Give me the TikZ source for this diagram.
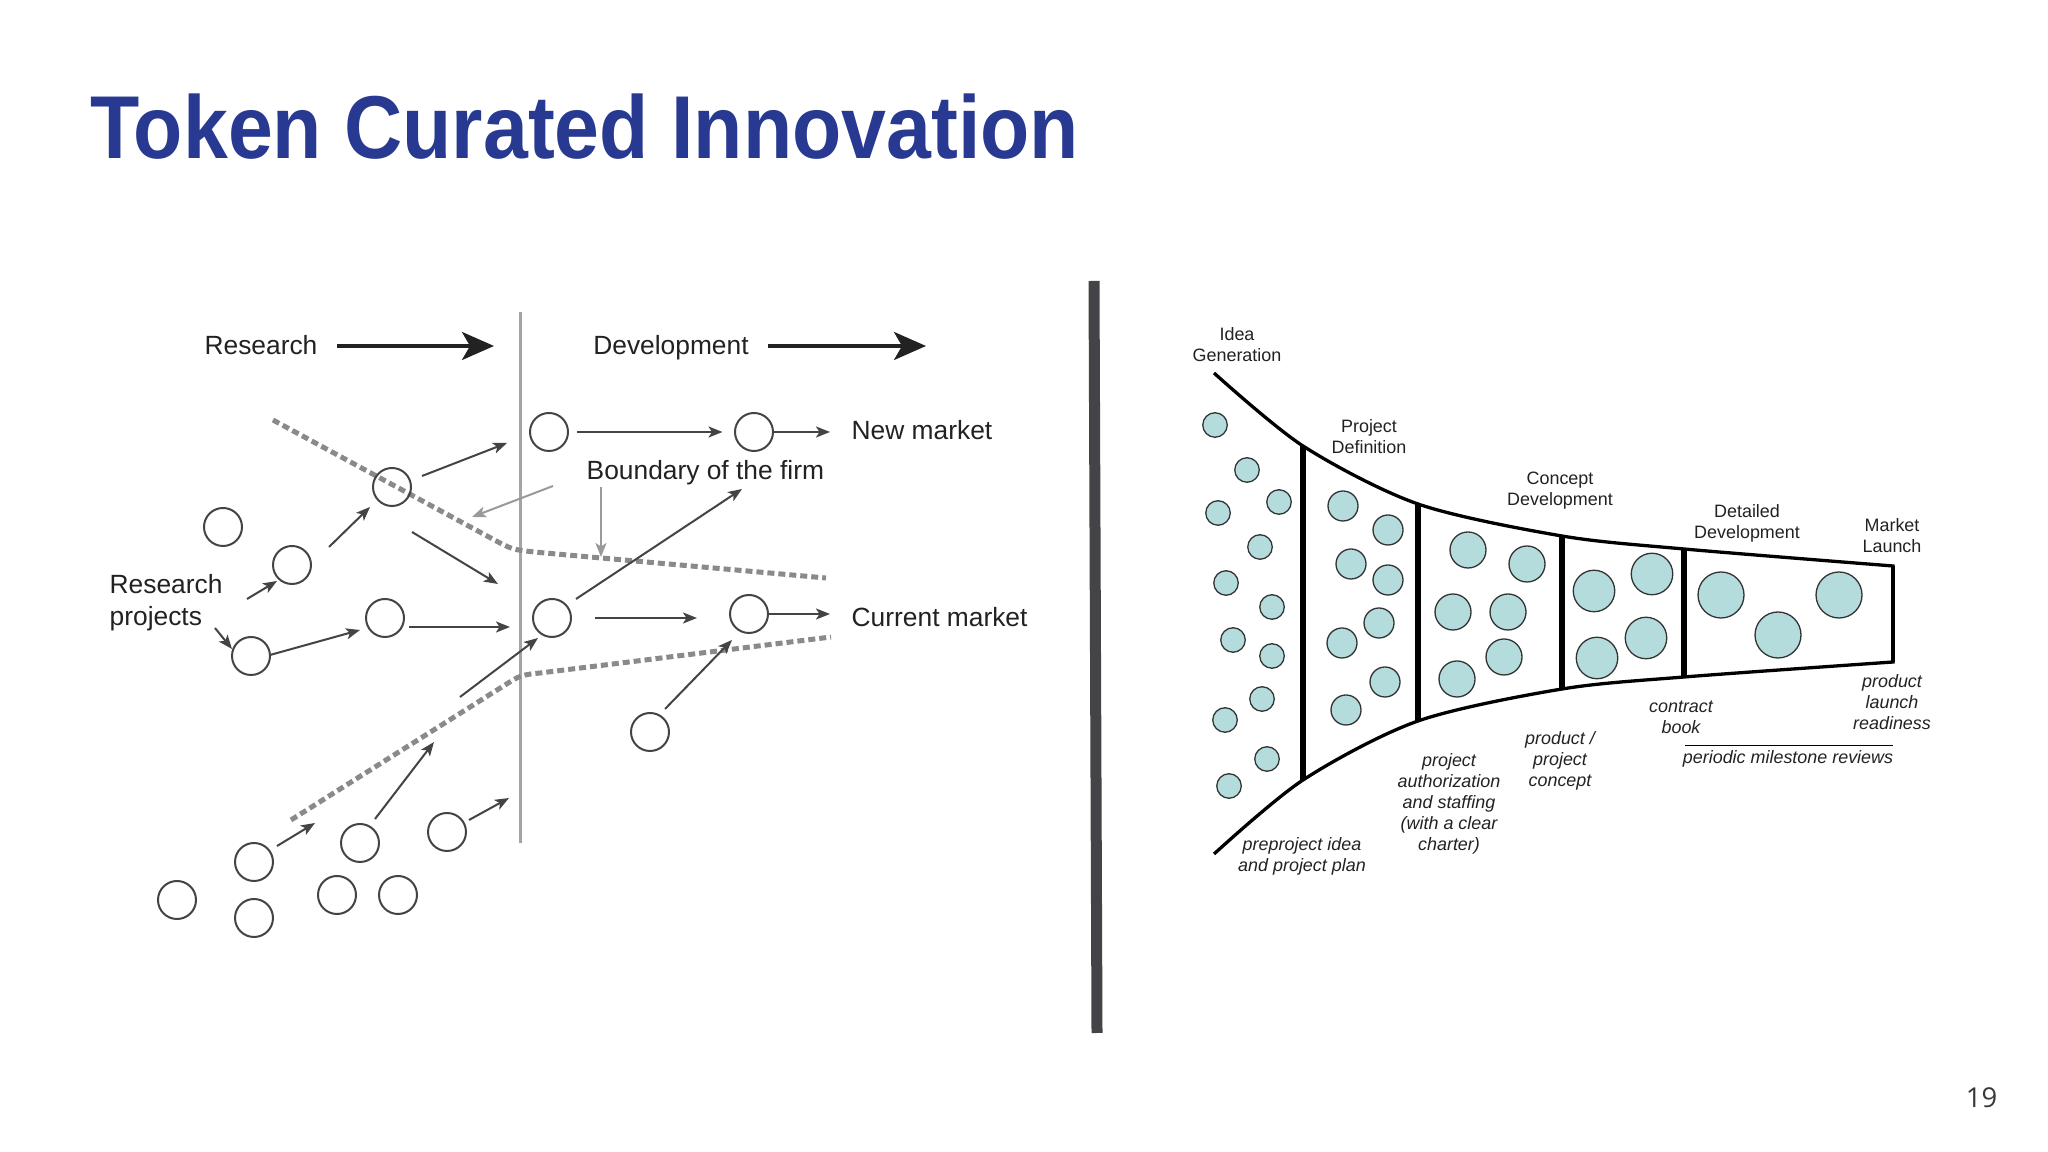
\documentclass[tikz,border=0pt]{standalone}
\usepackage{fontspec}
\setmainfont{Liberation Sans}
\newfontfamily\titlefont[FakeStretch=0.903]{Liberation Sans}
\newfontfamily\numfont{Open Sans}
\usetikzlibrary{arrows.meta,calc}
\definecolor{titleblue}{HTML}{283991}
\definecolor{inkgray}{HTML}{444444}
\definecolor{dotgray}{HTML}{8A8A8A}
\definecolor{firmgray}{HTML}{9A9A9A}
\definecolor{sepgray}{HTML}{444448}
\definecolor{ideafill}{HTML}{B4DCDC}
\definecolor{txt}{HTML}{222222}

\begin{document}
\begin{tikzpicture}[x=0.1mm,y=-0.1mm,
  lbl/.style={text=txt,inner sep=0pt,font=\fontsize{7.5}{9}\selectfont},
  proj/.style={circle,draw=inkgray,line width=0.2mm,minimum size=3.8mm,inner sep=0pt},
  arr/.style={draw=inkgray,line width=0.2mm,-{Stealth[length=1.4mm,width=1.1mm,inset=0.35mm]}},
  firmarr/.style={arr,draw=firmgray,-{Stealth[length=1.4mm,width=1.1mm,inset=0.35mm,color=firmgray]}},
  bigarr/.style={draw=txt,line width=0.35mm,-{Stealth[length=3.2mm,width=2.8mm,inset=0.8mm]}},
  dotline/.style={draw=dotgray,line width=0.5mm,dash pattern=on 0.7mm off 0.4mm},
  idea/.style={circle,draw=black!80,fill=ideafill,line width=0.13mm,inner sep=0pt,minimum size=#1},
  stage/.style={text=txt,inner sep=0pt,align=center,font=\fontsize{5.1}{6}\selectfont},
  gate/.style={stage,font=\fontsize{5.1}{6}\selectfont\itshape},
  funnel/.style={line width=0.33mm,line join=miter},
  gateline/.style={line width=0.57mm}]
\useasboundingbox (0,0) rectangle (2048,1152);
\fill[white] (0,0) rectangle (2048,1152);

\node[anchor=base west,inner sep=0pt,text=titleblue,font=\titlefont\bfseries\fontsize{25.4}{30}\selectfont] (title) at (90,159) {Token Curated Innovation};
\node[anchor=base east,inner sep=0pt,text=txt!90,font=\numfont\fontsize{7.8}{9}\selectfont] (page) at (1998,1108) {19};

% research and development
\coordinate (bt) at (520,312);
\coordinate (bb) at (520,843);
\draw[firmgray!90,line width=0.3mm] (bt) -- (bb);

\node[lbl,anchor=base] (res) at (261,355) {Research};
\node[lbl,anchor=base] (dev) at (671,355) {Development};
\node[lbl,anchor=base west] (nm) at (851,440) {New market};
\node[lbl,anchor=base west] (cm) at (851,627) {Current market};
\node[lbl,anchor=base west] (bf) at (586,480) {Boundary of the firm};
\node[lbl,anchor=north west,align=left] (rp) at (109,574) {Research\\projects};

\coordinate (rs) at (337,346);
\coordinate (re) at (494,346);
\coordinate (ds) at (768,346);
\coordinate (de) at (926,346);
\draw[bigarr] (rs) -- (re);
\draw[bigarr] (ds) -- (de);

\coordinate (u0) at (273,420);
\coordinate (u1) at (500,543);
\coordinate (u2) at (514,550);
\coordinate (u3) at (545,553);
\coordinate (u4) at (826,578);
\draw[dotline] (u0) -- (u1) .. controls (u2) .. (u3) -- (u4);
\coordinate (l0) at (291,820);
\coordinate (l1) at (505,685);
\coordinate (l2) at (521,675);
\coordinate (l3) at (540,673);
\coordinate (l4) at (831,637);
\draw[dotline] (l0) -- (l1) .. controls (l2) .. (l3) -- (l4);

\foreach \n/\x/\y in {A/549/432, B/754/432, X/392/487, P1/223/527, P2/292/565,
  P3/385/618, P4/251/656, C/552/618, D/749/614, E/650/732, Q1/254/862,
  Q2/360/843, Q3/447/832, Q4/177/900, Q5/254/918, Q6/337/895, Q7/398/895}
  \node[proj] (\n) at (\x,\y) {};

\draw[arr,shorten <=0.8mm,shorten >=1.15mm] (A) -- (B);
\draw[arr,shorten >=2.1mm] (B.east) -- (B.east -| nm.west);
\draw[arr,shorten >=2.1mm] (D.east) -- (D.east -| cm.west);

\foreach \i/\sx/\sy/\tx/\ty in {1/247/599/277/581, 2/215/628/232/649,
  3/270/655/360/630, 4/329/547/370/507, 5/422/476/507/443, 6/412/532/498/584,
  7/409/627/510/627, 8/576/599/742/489, 9/595/618/697/618, 10/460/697/538/638,
  11/665/709/732/640, 12/375/819/434/742, 13/277/846/315/823, 14/469/820/509/798}{
  \coordinate (s\i) at (\sx,\sy);
  \coordinate (t\i) at (\tx,\ty);
  \draw[arr] (s\i) -- (t\i);
}
\coordinate (g1s) at (553,486);
\coordinate (g1t) at (472,517);
\coordinate (g2s) at (601,487);
\coordinate (g2t) at (601,557);
\draw[firmarr] (g1s) -- (g1t);
\draw[firmarr] (g2s) -- (g2t);

% separator
\coordinate (sept) at (1094,281);
\coordinate (sepb) at (1097,1033);
\draw[sepgray,line width=1.1mm] (sept) -- (sepb);

% stage-gate funnel
\coordinate (t0) at (1214,373);
\coordinate (t1) at (1303,446);
\coordinate (t2) at (1418,504);
\coordinate (t3) at (1562,536);
\coordinate (t4) at (1684,549);
\coordinate (t5) at (1893,566);
\coordinate (b0) at (1214,854);
\coordinate (b1) at (1303,780);
\coordinate (b2) at (1418,721);
\coordinate (b3) at (1562,689);
\coordinate (b4) at (1684,677);
\coordinate (b5) at (1893,662);
\draw[funnel] plot[smooth] coordinates {(t0) (t1) (t2) (t3) (t4) (t5)}
  -- plot[smooth] coordinates {(b5) (b4) (b3) (b2) (b1) (b0)};
\draw[funnel,line width=0.4mm] (t5) -- (b5);
\foreach \h in {1,...,4}
  \draw[gateline] (t\h) -- (b\h);

\foreach \n/\x/\y in {1/1215/425, 2/1247/470, 3/1218/513, 4/1279/502, 5/1260/547,
  6/1226/583, 7/1272/607, 8/1233/640, 9/1272/656, 10/1262/699, 11/1225/720,
  12/1267/759, 13/1229/786}
  \node[idea=2.45mm] (i\n) at (\x,\y) {};
\foreach \n/\x/\y in {1/1343/506, 2/1388/530, 3/1351/564, 4/1388/580,
  5/1379/623, 6/1342/643, 7/1385/682, 8/1346/710}
  \node[idea=3mm] (f\n) at (\x,\y) {};
\foreach \n/\x/\y in {1/1468/550, 2/1527/564, 3/1453/612, 4/1508/612, 5/1504/657, 6/1457/679}
  \node[idea=3.6mm] (c\n) at (\x,\y) {};
\foreach \n/\x/\y in {1/1594/591, 2/1652/574, 3/1597/658, 4/1646/638}
  \node[idea=4.15mm] (k\n) at (\x,\y) {};
\foreach \n/\x/\y in {1/1721/595, 2/1778/635, 3/1839/595}
  \node[idea=4.6mm] (m\n) at (\x,\y) {};

\node[stage] (ig) at (1237,345) {Idea\\Generation};
\node[stage] (pd) at (1369,437) {Project\\Definition};
\node[stage] (cd) at (1560,491) {Concept\\Development};
\node[stage] (dd) at (1747,523) {Detailed\\Development};
\node[stage] (ml) at (1892,536) {Market\\Launch};
\node[gate] (g1) at (1302,856) {preproject idea\\and project plan};
\node[gate] (g2) at (1449,804) {project\\authorization\\and staffing\\(with a clear\\charter)};
\node[gate] (g3) at (1560,761) {product /\\project\\concept};
\node[gate] (g4) at (1681,717) {contract\\book};
\node[gate] (g5) at (1892,702) {product\\launch\\readiness};
\node[gate,anchor=base] (g6) at (1788,764) {periodic milestone reviews};
\coordinate (pm1) at (1685,746);
\coordinate (pm2) at (1893,746);
\draw[line width=0.1mm] (pm1) -- (pm2);
\end{tikzpicture}
\end{document}
